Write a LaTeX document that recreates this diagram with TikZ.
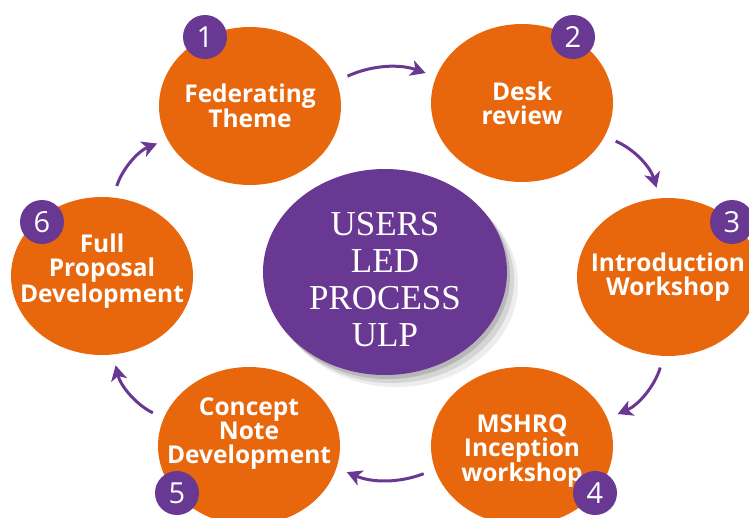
\documentclass[tikz,border=0pt]{standalone}
\usepackage{fontspec}
\newfontfamily\stepfont{Open Sans}
\newfontfamily\ulpfont{Liberation Serif}
\usetikzlibrary{shapes,arrows.meta,shadows}
\definecolor{steporange}{RGB}{233,103,12}
\definecolor{ulppurple}{RGB}{105,56,147}

\tikzset{
  stepnode/.style={shape=ellipse,fill=steporange,minimum width=182pt,minimum height=158pt,inner xsep=-40pt,inner ysep=0pt,align=center,text=white,font=\stepfont\bfseries\fontsize{24.5}{24}\selectfont},
  badge/.style={shape=circle,fill=ulppurple,minimum size=44pt,inner sep=0pt,text=white,font=\stepfont\fontsize{29}{29}\selectfont},
  softshadow/.style={drop shadow={shadow xshift=3pt,shadow yshift=-4pt,opacity=0.14,fill=black},
                     drop shadow={shadow xshift=7pt,shadow yshift=-8pt,opacity=0.10,fill=black},
                     drop shadow={shadow xshift=11pt,shadow yshift=-12pt,opacity=0.07,fill=black}},
  ulpnode/.style={shape=ellipse,fill=ulppurple,minimum width=244pt,minimum height=206pt,inner xsep=0pt,inner ysep=-20pt,align=center,text=white,font=\ulpfont\fontsize{35}{37}\selectfont,softshadow},
  flow/.style={-{Stealth[length=15pt,width=16pt,inset=4pt]},draw=ulppurple,line width=3pt,shorten <=12pt,shorten >=11pt}
}

\begin{document}
\begin{tikzpicture}[x=1pt,y=-1pt]
\useasboundingbox (0,0) rectangle (749,517);

\node[ulpnode,text height=150pt] (ulp) at (385,272) {USERS\\LED\\PROCESS\\ULP};

\node[stepnode] (s1) at (250,106) {Federating\\Theme};
\node[stepnode] (s2) at (522,103) {Desk\\review};
\node[stepnode] (s3) at (668,277) {Introduction\\Workshop};
\node[stepnode,text height=77pt] (s4) at (522,446) {MSHRQ\\Inception\\workshop};
\node[stepnode,text depth=30pt] (s5) at (249,446) {Concept\\Note\\Development};
\node[stepnode,text depth=16pt] (s6) at (102,276) {Full\\Proposal\\Development};

\node[badge] (n1) at (205,37) {1};
\node[badge] (n2) at (573,37) {2};
\node[badge] (n3) at (732,222) {3};
\node[badge] (n4) at (595,493) {4};
\node[badge] (n5) at (177,493) {5};
\node[badge] (n6) at (42,222) {6};

\path (s1.16) edge[flow,bend left=22] (s2.163);
\path (s2.-22) edge[flow,bend left=25] (s3.96);
\path (s3.-93) edge[flow,bend left=25] (s4.18);
\path (s4.195) edge[flow,bend left=22] (s5.-14);
\path (s5.162) edge[flow,bend left=25] (s6.-82);
\path (s6.82) edge[flow,bend left=25] (s1.202);
\end{tikzpicture}
\end{document}
